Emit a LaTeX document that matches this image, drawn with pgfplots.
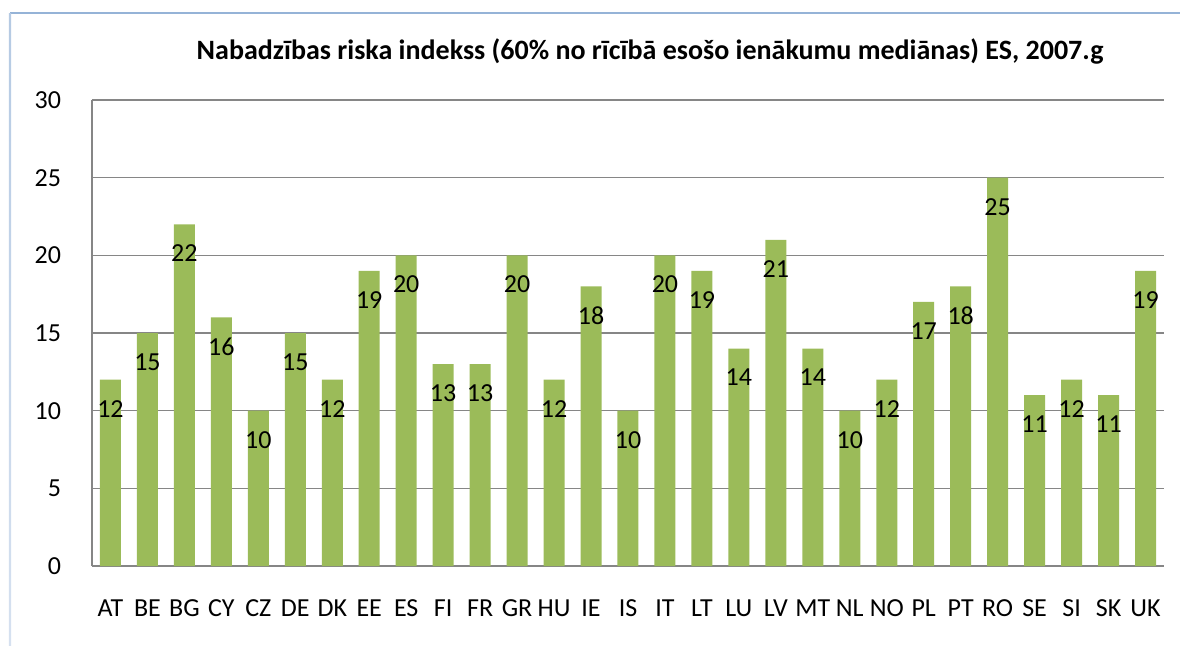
\documentclass[border=0pt]{standalone}
\usepackage{fontspec}
\setmainfont{Carlito}
\usepackage{pgfplots}
\pgfplotsset{compat=1.18}
\definecolor{bargreen}{HTML}{9BBB59}
\definecolor{gridgray}{HTML}{868686}
\definecolor{borderblue}{HTML}{95B3D7}
\definecolor{borderlight}{HTML}{D6E1F0}
\begin{document}
\begin{tikzpicture}
\useasboundingbox (0pt,0pt) rectangle (590pt,322.5pt);
\draw[borderblue, line width=1.2pt] (5pt,316pt) -- (590pt,316pt);
\shade[top color=borderblue!70, bottom color=borderlight] (4.4pt,0pt) rectangle (5.6pt,316pt);
\node[font=\fontsize{14}{16}\selectfont\bfseries] at (325pt,297pt) {Nabadzības riska indekss (60\% no rīcībā esošo ienākumu mediānas) ES, 2007.g};
\begin{axis}[
  at={(46pt,39.5pt)}, anchor=south west,
  scale only axis, width=536pt, height=233pt,
  xmin=-0.5, xmax=28.5, ymin=0, ymax=30,
  ybar, bar width=10.5pt,
  axis x line=bottom, axis y line=left,
  axis line style={gridgray, line width=0.6pt, -},
  xtick=data,
  xticklabels={AT,BE,BG,CY,CZ,DE,DK,EE,ES,FI,FR,GR,HU,IE,IS,IT,LT,LU,LV,MT,NL,NO,PL,PT,RO,SE,SI,SK,UK},
  ytick={0,5,10,15,20,25,30},
  major tick length=0pt,
  ymajorgrids, grid style={gridgray, line width=0.6pt},
  /pgf/number format/assume math mode=true,
  tick label style={font=\fontsize{13}{15}\selectfont},
  xticklabel style={anchor=center, yshift=-21pt},
  yticklabel style={anchor=east, xshift=-12pt},
  nodes near coords,
  every node near coord/.append style={font=\fontsize{13}{15}\selectfont, anchor=center, yshift=-14.5pt, black},
  clip=false,
]
\addplot[fill=bargreen, draw=none] coordinates {
(0,12) (1,15) (2,22) (3,16) (4,10) (5,15) (6,12) (7,19) (8,20) (9,13)
(10,13) (11,20) (12,12) (13,18) (14,10) (15,20) (16,19) (17,14) (18,21) (19,14)
(20,10) (21,12) (22,17) (23,18) (24,25) (25,11) (26,12) (27,11) (28,19)};
\end{axis}
\end{tikzpicture}
\end{document}
